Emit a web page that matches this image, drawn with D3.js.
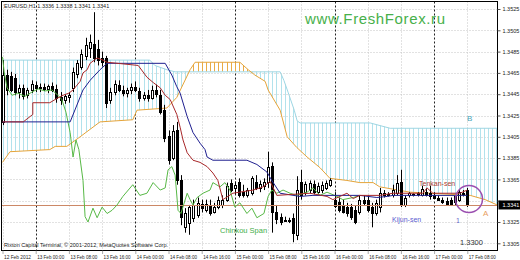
<!DOCTYPE html>
<html lang="en">
<head>
<meta charset="UTF-8">
<title>EURUSD H1 Ichimoku</title>
<script src="https://cdn.jsdelivr.net/npm/d3@7"></script>
<style>
    body { margin: 0; background: #fff; }
    svg { display: block; }
    text { font-family: "Liberation Sans", Arial, sans-serif; }
    .axis text { font-size: 5.5px; fill: #222; }
    .axis line { stroke: #555; }
</style>
</head>
<body>
<svg id="chart" width="520" height="260"></svg>
<script>
// price levels on the right scale
const priceTicks = [1.3525, 1.3505, 1.3485, 1.3465, 1.3445, 1.3425, 1.3405, 1.3385, 1.3365, 1.3345, 1.3325, 1.3305];
// time labels: bar index -> label
const timeBars = [0, 8, 16, 24, 32, 40, 48, 56, 64, 72, 80, 88, 96, 104, 112];
const timeText = ["12 Feb 2012", "13 Feb 00:00", "13 Feb 08:00", "13 Feb 16:00", "14 Feb 00:00", "14 Feb 08:00",
    "14 Feb 16:00", "15 Feb 00:00", "15 Feb 08:00", "15 Feb 16:00", "16 Feb 00:00", "16 Feb 08:00",
    "16 Feb 16:00", "17 Feb 00:00", "17 Feb 08:00"];
const daySeparators = [8, 32, 56, 80, 104];
const lastPrice = 1.3341;

// H1 candles [open, high, low, close]
const candles = [
    [1.3419,1.3477,1.3416,1.3463],[1.3463,1.3468,1.3444,1.3449],[1.3462,1.3466,1.3447,1.3449],[1.3460,1.3464,1.3444,1.3447],
    [1.3447,1.3454,1.3441,1.3451],[1.3451,1.3454,1.3440,1.3443],[1.3444,1.3451,1.3441,1.3449],[1.3449,1.3458,1.3446,1.3455],
    [1.3454,1.3457,1.3447,1.3451],[1.3451,1.3455,1.3447,1.3452],[1.3452,1.3455,1.3448,1.3450],[1.3450,1.3454,1.3446,1.3453],
    [1.3453,1.3456,1.3447,1.3449],[1.3450,1.3454,1.3437,1.3441],[1.3442,1.3447,1.3435,1.3440],[1.3440,1.3445,1.3436,1.3443],
    [1.3442,1.3447,1.3437,1.3444],[1.3451,1.3470,1.3447,1.3466],[1.3464,1.3477,1.3460,1.3474],[1.3471,1.3487,1.3468,1.3483],
    [1.3481,1.3498,1.3477,1.3491],[1.3488,1.3501,1.3479,1.3494],[1.3492,1.3522,1.3475,1.3479],[1.3487,1.3496,1.3472,1.3477],
    [1.3479,1.3485,1.3471,1.3475],[1.3479,1.3481,1.3432,1.3437],[1.3440,1.3451,1.3436,1.3447],[1.3447,1.3458,1.3444,1.3455],
    [1.3454,1.3458,1.3447,1.3449],[1.3449,1.3453,1.3443,1.3446],[1.3446,1.3451,1.3442,1.3449],[1.3449,1.3455,1.3445,1.3452],
    [1.3452,1.3457,1.3447,1.3449],[1.3448,1.3451,1.3438,1.3441],[1.3441,1.3447,1.3439,1.3444],[1.3444,1.3449,1.3438,1.3441],
    [1.3441,1.3453,1.3440,1.3449],[1.3449,1.3454,1.3442,1.3445],[1.3444,1.3449,1.3426,1.3428],[1.3430,1.3435,1.3400,1.3404],
    [1.3406,1.3411,1.3379,1.3383],[1.3385,1.3416,1.3383,1.3410],[1.3411,1.3419,1.3360,1.3364],[1.3364,1.3369,1.3322,1.3330],
    [1.3320,1.3338,1.3315,1.3333],[1.3324,1.3341,1.3313,1.3339],[1.3329,1.3346,1.3325,1.3341],[1.3332,1.3348,1.3329,1.3343],
    [1.3342,1.3346,1.3334,1.3338],[1.3336,1.3346,1.3334,1.3342],[1.3341,1.3346,1.3331,1.3333],[1.3334,1.3343,1.3333,1.3339],
    [1.3339,1.3349,1.3337,1.3346],[1.3341,1.3350,1.3338,1.3346],[1.3346,1.3362,1.3344,1.3359],[1.3362,1.3365,1.3353,1.3355],
    [1.3357,1.3363,1.3351,1.3360],[1.3363,1.3366,1.3348,1.3350],[1.3353,1.3360,1.3348,1.3350],[1.3350,1.3357,1.3348,1.3355],
    [1.3352,1.3368,1.3350,1.3366],[1.3363,1.3369,1.3355,1.3357],[1.3357,1.3364,1.3353,1.3361],[1.3359,1.3366,1.3355,1.3363],
    [1.3363,1.3391,1.3357,1.3377],[1.3378,1.3381,1.3315,1.3334],[1.3334,1.3341,1.3323,1.3328],[1.3330,1.3333,1.3322,1.3325],
    [1.3327,1.3330,1.3325,1.3326],[1.3327,1.3329,1.3324,1.3326],[1.3329,1.3333,1.3306,1.3315],[1.3313,1.3368,1.3308,1.3355],
    [1.3363,1.3374,1.3346,1.3350],[1.3353,1.3363,1.3350,1.3361],[1.3355,1.3364,1.3352,1.3362],[1.3361,1.3364,1.3351,1.3353],
    [1.3353,1.3362,1.3351,1.3359],[1.3355,1.3363,1.3352,1.3360],[1.3357,1.3364,1.3355,1.3362],[1.3360,1.3366,1.3358,1.3364],
    [1.3346,1.3353,1.3338,1.3340],[1.3344,1.3348,1.3334,1.3336],[1.3341,1.3346,1.3333,1.3334],[1.3339,1.3343,1.3330,1.3333],
    [1.3339,1.3342,1.3327,1.3330],[1.3336,1.3340,1.3323,1.3325],[1.3334,1.3350,1.3332,1.3346],[1.3346,1.3350,1.3340,1.3343],
    [1.3346,1.3350,1.3334,1.3336],[1.3339,1.3343,1.3320,1.3333],[1.3333,1.3346,1.3331,1.3343],[1.3339,1.3357,1.3334,1.3352],
    [1.3350,1.3355,1.3348,1.3352],[1.3350,1.3353,1.3349,1.3351],[1.3350,1.3360,1.3348,1.3355],[1.3352,1.3369,1.3350,1.3362],
    [1.3363,1.3374,1.3339,1.3341],[1.3341,1.3350,1.3339,1.3348],[1.3350,1.3353,1.3348,1.3352],[1.3350,1.3352,1.3349,1.3351],
    [1.3351,1.3353,1.3349,1.3352],[1.3350,1.3359,1.3349,1.3356],[1.3353,1.3357,1.3349,1.3350],[1.3352,1.3359,1.3346,1.3349],
    [1.3350,1.3353,1.3347,1.3348],[1.3348,1.3350,1.3345,1.3346],[1.3346,1.3348,1.3342,1.3344],[1.3345,1.3348,1.3340,1.3341],
    [1.3346,1.3348,1.3340,1.3341],[1.3344,1.3350,1.3341,1.3349],[1.3346,1.3355,1.3344,1.3353],[1.3351,1.3355,1.3349,1.3352],
    [1.3355,1.3357,1.3339,1.3341]
];

// Ichimoku lines: [bar, price]
const tenkan = [[0,1.3419],[5,1.3419],[7.3,1.3426],[7.3,1.3437],[11.4,1.3437],[13.1,1.3441],[14.6,1.3444],[16,1.3446],
    [17,1.3449],[18.7,1.3457],[19.4,1.3465],[20.4,1.3468],[21.1,1.3474],[22.8,1.3479],[24.2,1.3477],[25.2,1.3475],
    [32.7,1.3472],[34.8,1.3461],[36.3,1.3456],[38,1.3451],[39.2,1.3444],[40.4,1.3440],[42,1.3426],[42.8,1.3414],
    [43.5,1.3402],[44.5,1.3390],[45.9,1.3383],[47.6,1.3381],[49.3,1.3377],[50.7,1.3371],[51.9,1.3364],[53.1,1.3346],
    [55.5,1.3352],[60.4,1.3355],[62.8,1.3358],[64.5,1.3363],[66.1,1.3350],[74.1,1.3352],[78.2,1.3349],[79.6,1.3346],
    [83,1.3352],[84.5,1.3347],[86.1,1.3350],[90.9,1.3350],[94.1,1.3352],[101.3,1.3352],[102.3,1.3357],[103.7,1.3352],
    [110.2,1.3352],[112,1.3355]];
const kijun = [[0,1.3419],[16.3,1.3419],[19.4,1.3449],[21.1,1.3458],[23.5,1.3468],[25.2,1.3474],[39.2,1.3474],
    [40.8,1.3463],[42,1.3452],[42.8,1.3446],[44.5,1.3424],[45.9,1.3409],[47.6,1.3399],[48.8,1.3393],[49.3,1.3386],
    [50.7,1.3383],[58.9,1.3383],[61.3,1.3379],[63.7,1.3372],[64.9,1.3364],[66.9,1.3352],[71.7,1.3349],[74.8,1.3350],
    [86.1,1.3350],[90.2,1.3348],[92.7,1.3349],[94.1,1.3350],[112,1.3350]];
const senkouA = [[0,1.3381],[1.8,1.3391],[11.4,1.3393],[12.7,1.3396],[15.5,1.3396],[18.7,1.3405],[23.5,1.3419],
    [31.4,1.3421],[32.4,1.3430],[39.6,1.3432],[42,1.3442],[45.2,1.3468],[46.4,1.3475],[57.2,1.3475],[59.2,1.3468],
    [60.8,1.3463],[63.3,1.3457],[64,1.3449],[66.9,1.3430],[68.6,1.3405],[70.9,1.3395],[73.4,1.3386],[76.5,1.3376],
    [78.9,1.3366],[83,1.3364],[86.1,1.3362],[89.3,1.3362],[90.9,1.3358],[98.2,1.3353],[112.7,1.3350],[116.3,1.3346],
    [119.2,1.3341]];
const senkouB = [[0,1.3477],[35.5,1.3477],[36.7,1.3472],[39.6,1.3468],[41.6,1.3466],[66.9,1.3466],[67.8,1.3458],
    [68.8,1.3447],[70.3,1.3430],[71,1.3420],[71.7,1.3418],[88.6,1.3418],[93.4,1.3413],[119.2,1.3413]];
const chinkou = [[0,1.3480],[0.4,1.3466],[1.1,1.3451],[2.3,1.3444],[3.7,1.3446],[5.4,1.3443],[7.1,1.3447],[8.6,1.3450],
    [10.2,1.3448],[11.9,1.3449],[13.1,1.3445],[14.3,1.3440],[15.3,1.3428],[16.3,1.3409],[17,1.3386],[17.7,1.3402],
    [18.4,1.3393],[19.4,1.3364],[19.9,1.3330],[20.6,1.3325],[21.8,1.3338],[22.8,1.3329],[24,1.3339],[25.2,1.3333],
    [26.4,1.3336],[27.6,1.3341],[29,1.3349],[31.4,1.3360],[33.1,1.3350],[34.8,1.3352],[36.3,1.3362],[38,1.3355],
    [39.2,1.3357],[39.9,1.3374],[40.8,1.3377],[41.6,1.3369],[42.3,1.3336],[43,1.3333],[44.5,1.3352],[45.2,1.3346],
    [45.9,1.3341],[46.9,1.3348],[48.3,1.3352],[50,1.3355],[50.7,1.3362],[52.4,1.3358],[53.6,1.3362],[54.8,1.3355],
    [56,1.3339],[57.2,1.3343],[58.9,1.3333],[60.1,1.3338],[61.3,1.3329],[63,1.3333],[64,1.3349],[64.9,1.3355],
    [66.1,1.3352],[67.6,1.3355],[69.3,1.3352],[70.9,1.3350],[73.4,1.3353],[74.8,1.3357],[76.5,1.3350],[78.2,1.3353],
    [80.6,1.3349],[82,1.3346],[84.5,1.3348],[86.1,1.3350]];

const svg = d3.select("#chart");
const pLeft = 1.5, pRight = 497.5, pTop = 1.5, pBottom = 250.5;

const x = d3.scaleLinear().domain([0, 119]).range([2.5, 496.35]);
const y = d3.scaleLinear().domain([1.3305, 1.3525]).range([243.3, 9]);
const px = i => Math.round(x(i)) + 0.5;

const defs = svg.append("defs");
defs.append("clipPath").attr("id", "plot")
    .append("rect").attr("x", pLeft).attr("y", pTop).attr("width", pRight - pLeft).attr("height", pBottom - pTop);

const line = d3.line().x(d => x(d[0])).y(d => y(d[1]));

// cloud band between span A and span B, split by the B line
defs.append("clipPath").attr("id", "band")
    .append("path").attr("d", line(senkouA.concat(senkouB.slice().reverse())) + "Z");
const bPath = line(senkouB).slice(1);
defs.append("clipPath").attr("id", "aboveB")
    .append("path").attr("d", `M${x(0)},0L${bPath}L${x(119.2)},0Z`);
defs.append("clipPath").attr("id", "belowB")
    .append("path").attr("d", `M${x(0)},260L${bPath}L${x(119.2)},260Z`);

const plot = svg.append("g").attr("clip-path", "url(#plot)");

// grid
plot.append("g").selectAll("line").data(priceTicks).join("line")
    .attr("x1", pLeft).attr("x2", pRight)
    .attr("y1", d => Math.round(y(d)) + 0.5).attr("y2", d => Math.round(y(d)) + 0.5)
    .attr("stroke", "#c4c4c4").attr("stroke-dasharray", "1,2");
plot.append("g").selectAll("line").data(timeBars.filter(b => !daySeparators.includes(b))).join("line")
    .attr("x1", px).attr("x2", px).attr("y1", pTop).attr("y2", pBottom)
    .attr("stroke", "#c4c4c4").attr("stroke-dasharray", "1,2");
plot.append("g").selectAll("line").data(daySeparators).join("line")
    .attr("x1", px).attr("x2", px).attr("y1", pTop).attr("y2", pBottom)
    .attr("stroke", "#222").attr("stroke-dasharray", "2,2");

// cloud hatching, one stroke per bar
const bars = d3.range(0, 120);
const cloud = plot.append("g").attr("clip-path", "url(#band)");
cloud.append("g").attr("clip-path", "url(#belowB)")
    .selectAll("line").data(bars).join("line")
    .attr("x1", px).attr("x2", px).attr("y1", 0).attr("y2", 260)
    .attr("stroke", "#b2e2ec");
cloud.append("g").attr("clip-path", "url(#aboveB)")
    .selectAll("line").data(bars).join("line")
    .attr("x1", px).attr("x2", px).attr("y1", 0).attr("y2", 260)
    .attr("stroke", "#e9ab45");

plot.append("path").attr("d", line(senkouB)).attr("fill", "none").attr("stroke", "#9dd6e4");
plot.append("path").attr("d", line(senkouA)).attr("fill", "none").attr("stroke", "#e5a43a");

// candles
const cg = plot.append("g");
candles.forEach((c, i) => {
    const [o, h, l, cl] = c;
    const cx = Math.round(x(i));
    cg.append("line").attr("x1", cx + 0.5).attr("x2", cx + 0.5)
        .attr("y1", y(h)).attr("y2", y(l)).attr("stroke", "#000");
    const yt = Math.round(y(Math.max(o, cl))), yb = Math.round(y(Math.min(o, cl)));
    if (yb - yt < 1) {
        cg.append("line").attr("x1", cx - 1).attr("x2", cx + 2)
            .attr("y1", yt + 0.5).attr("y2", yt + 0.5).attr("stroke", "#000");
    } else {
        cg.append("rect").attr("x", cx - 0.5).attr("y", yt + 0.5)
            .attr("width", 2).attr("height", yb - yt)
            .attr("fill", cl >= o ? "#fff" : "#000").attr("stroke", "#000");
    }
});

// bid line
plot.append("line").attr("x1", pLeft).attr("x2", pRight)
    .attr("y1", Math.round(y(lastPrice)) + 0.5).attr("y2", Math.round(y(lastPrice)) + 0.5)
    .attr("stroke", "#cc8866");

plot.append("path").attr("d", line(chinkou)).attr("fill", "none").attr("stroke", "#57b846");
plot.append("path").attr("d", line(kijun)).attr("fill", "none").attr("stroke", "#1f1f8f");
plot.append("path").attr("d", line(tenkan)).attr("fill", "none").attr("stroke", "#a8282a");

// frame
svg.append("rect").attr("x", pLeft).attr("y", pTop).attr("width", pRight - pLeft).attr("height", pBottom - pTop)
    .attr("fill", "none").attr("stroke", "#000");

// axes (the level under the price box is covered by it)
const yAxis = svg.append("g").attr("class", "axis").attr("transform", `translate(${pRight},0)`)
    .call(d3.axisRight(y).tickValues(priceTicks).tickSize(3).tickPadding(2)
        .tickFormat(d => Math.abs(y(d) - y(lastPrice)) < 7 ? "" : d3.format(".4f")(d)));
yAxis.select(".domain").remove();

const xAxis = svg.append("g").attr("class", "axis").attr("transform", `translate(0,${pBottom})`)
    .call(d3.axisBottom(x).tickValues(timeBars).tickSize(3).tickFormat((d, i) => timeText[i]));
xAxis.select(".domain").remove();
xAxis.selectAll("text").attr("text-anchor", "start").attr("x", 1).attr("dy", "0.5em")
    .attr("textLength", 27).attr("lengthAdjust", "spacingAndGlyphs");
xAxis.selectAll("line").attr("stroke-dasharray", "1,1");

// current price marker
svg.append("rect").attr("x", pRight + 1).attr("y", y(lastPrice) - 4.5).attr("width", 22).attr("height", 9).attr("fill", "#000");
svg.append("text").attr("x", pRight + 5).attr("y", y(lastPrice) + 2).attr("fill", "#fff")
    .attr("font-size", "5.5px").text(d3.format(".4f")(lastPrice));

// header, watermark, copyright
svg.append("text").attr("x", 4).attr("y", 7.5).attr("font-size", "5.5px").attr("fill", "#222")
    .text("EURUSD,H1  1.3336 1.3338 1.3341 1.3341");
svg.append("text").attr("x", 305).attr("y", 24).attr("font-family", "DejaVu Sans")
    .attr("font-size", "15px").attr("fill", "#47b04a").attr("textLength", 140).text("www.FreshForex.ru");
svg.append("text").attr("x", 4).attr("y", 247).attr("font-size", "5.5px").attr("fill", "#222")
    .attr("textLength", 164).text("Rixton Capital Terminal, © 2001-2012, MetaQuotes Software Corp.");

// annotations
const notes = [
    {t: "Tenkan-sen", x: 419, y: 186, c: "#b03a2e", s: 7},
    {t: "Kijun-sen", x: 392, y: 222, c: "#5b5bd0", s: 7},
    {t: "Chinkou Span", x: 220, y: 233, c: "#3fae49", s: 7.5},
    {t: "B", x: 467, y: 121, c: "#4aa3b8", s: 8},
    {t: "A", x: 483, y: 216, c: "#e8a060", s: 8},
    {t: "1", x: 456, y: 223, c: "#6a6ac8", s: 7},
    {t: "1.3300", x: 460, y: 245, c: "#333", s: 7.5}
];
svg.append("g").selectAll("text").data(notes).join("text")
    .attr("x", d => d.x).attr("y", d => d.y).attr("fill", d => d.c)
    .attr("font-size", d => d.s + "px").text(d => d.t);

svg.append("circle").attr("cx", 469).attr("cy", 199).attr("r", 13.5)
    .attr("fill", "none").attr("stroke", "#9b4fb0").attr("stroke-width", 1.5);
</script>
</body>
</html>
